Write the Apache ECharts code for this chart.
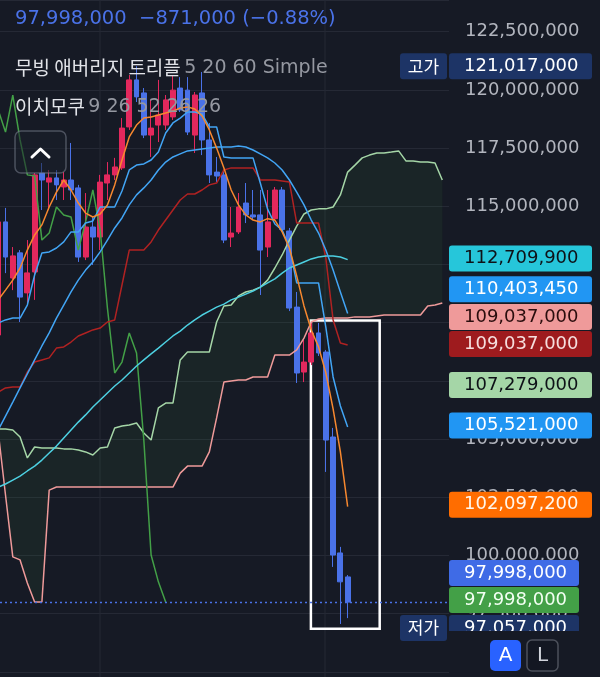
<!DOCTYPE html>
<html>
<head>
<meta charset="utf-8">
<script src="https://cdn.jsdelivr.net/npm/echarts@6.0.0/dist/echarts.min.js"></script>
<style>
html, body { margin: 0; padding: 0; background: #161a25; }
#main { width: 600px; height: 677px; }
</style>
</head>
<body>
<div id="main"></div>
<script>
// 단위: 백만원
// 봉 [시가, 종가, 저가, 고가]
const candles = [
  [109.47, 114.33, 108.83, 114.41], [114.33, 112.82, 112.13, 114.93], [111.92, 112.87, 111.40, 113.25],
  [113.00, 111.10, 110.03, 113.12], [111.28, 112.14, 110.85, 113.55], [112.18, 116.35, 110.98, 116.43],
  [116.43, 116.13, 114.84, 116.86], [116.04, 116.22, 114.84, 116.56], [116.22, 115.92, 115.27, 116.56],
  [115.83, 116.13, 115.27, 116.47], [116.13, 115.70, 115.27, 117.72], [115.79, 112.82, 112.61, 115.92],
  [112.82, 114.11, 112.69, 115.57], [114.11, 113.68, 112.48, 114.54], [113.68, 116.04, 113.12, 116.35],
  [116.00, 116.35, 115.27, 116.90], [116.35, 116.69, 116.13, 117.08], [116.65, 118.36, 116.56, 118.79],
  [118.41, 120.43, 118.28, 120.64], [120.43, 119.70, 119.48, 121.017], [119.87, 118.06, 117.93, 120.08],
  [118.06, 118.36, 117.12, 119.57], [118.49, 118.92, 117.76, 120.43], [118.49, 119.57, 118.28, 119.78],
  [118.84, 119.99, 118.71, 120.64], [120.08, 119.14, 119.05, 120.55], [119.99, 118.19, 118.06, 120.55],
  [118.06, 119.78, 117.29, 119.91], [119.87, 117.85, 117.20, 120.77], [117.85, 116.35, 116.00, 118.58],
  [116.47, 116.30, 116.04, 117.12], [116.35, 113.55, 113.42, 116.56], [113.68, 113.85, 113.25, 114.97],
  [113.90, 114.97, 113.81, 115.57], [115.14, 114.63, 114.28, 116.00], [114.63, 114.54, 114.41, 115.70],
  [114.63, 113.12, 111.19, 115.70], [113.25, 114.33, 112.82, 115.70], [114.47, 115.70, 114.37, 115.83],
  [115.70, 114.00, 113.90, 115.83], [113.94, 110.63, 110.50, 114.07], [110.67, 107.84, 107.41, 111.32],
  [107.88, 108.31, 107.45, 109.26], [108.31, 109.56, 108.18, 110.03], [109.56, 108.70, 108.57, 109.99],
  [108.74, 104.96, 103.59, 108.83], [105.09, 100.02, 99.51, 105.48], [100.11, 98.869, 97.057, 100.37],
  [99.08, 97.998, 97.31, 99.16]
];

// 무빙 애버리지 5 / 20 / 60
const ma5 = [110.98, 111.40, 111.83, 112.35, 113.12, 113.77, 114.20, 114.97, 115.61, 116.13,
  115.70, 115.14, 114.71, 114.54, 114.67, 115.06, 115.92, 116.99, 117.98, 118.49,
  118.79, 118.84, 118.92, 119.01, 119.09, 119.22, 119.27, 119.18, 118.88, 118.28,
  117.50, 116.65, 115.70, 115.06, 114.63, 114.41, 114.33, 114.47, 114.41, 113.90,
  113.21, 112.01, 110.72, 109.69, 108.96, 107.85, 106.30, 104.45, 102.10];
const ma20 = [105.39, 105.99, 106.59, 107.20, 107.80, 108.40, 109.00, 109.56, 110.20, 110.76,
  111.32, 111.83, 112.26, 112.61, 113.04, 113.55, 114.07, 114.50, 115.06, 115.49,
  115.79, 116.13, 116.56, 116.90, 117.12, 117.25, 117.38, 117.42, 117.46, 117.50,
  117.55, 117.55, 117.55, 117.59, 117.55, 117.42, 117.25, 117.08, 116.86, 116.56,
  116.13, 115.61, 115.06, 114.41, 113.85, 113.12, 112.26, 111.32, 110.40];
const ma60 = [102.94, 103.07, 103.24, 103.41, 103.63, 103.84, 104.10, 104.40, 104.70, 105.05,
  105.39, 105.73, 106.04, 106.38, 106.68, 106.98, 107.28, 107.54, 107.84, 108.14,
  108.40, 108.66, 108.91, 109.17, 109.43, 109.64, 109.90, 110.12, 110.33, 110.50,
  110.67, 110.80, 110.98, 111.10, 111.23, 111.36, 111.53, 111.71, 111.88, 112.13,
  112.35, 112.48, 112.61, 112.74, 112.82, 112.87, 112.87, 112.82, 112.71];

// 이치모쿠 9 26 52 26 26
const tenkan = [109.99, 110.12, 110.20, 110.20, 110.76, 112.05, 112.99, 113.04, 113.21, 113.47,
  113.90, 113.90, 114.28, 114.37, 114.97, 114.97, 114.97, 115.66, 116.56, 116.77,
  116.82, 116.99, 117.33, 118.15, 118.58, 118.79, 119.05, 119.05, 118.96, 118.41,
  118.41, 117.12, 117.08, 117.08, 117.08, 117.08, 116.00, 114.88, 114.24, 113.98,
  113.25, 111.71, 111.71, 111.71, 111.71, 109.81, 107.67, 106.42, 105.52];
const kijun = [107.02, 107.20, 107.24, 107.24, 107.88, 108.31, 108.40, 108.49, 108.91, 108.96,
  109.17, 109.43, 109.56, 109.69, 109.77, 110.03, 110.12, 111.62, 113.12, 113.12,
  113.12, 113.47, 113.98, 114.41, 114.84, 115.27, 115.53, 115.53, 115.70, 115.92,
  116.00, 116.56, 116.65, 116.65, 116.65, 116.65, 116.13, 116.13, 116.13, 116.09,
  116.04, 114.28, 114.28, 114.28, 114.28, 112.78, 110.12, 109.13, 109.04];
const lagging = [119.14, 118.19, 119.78, 117.85, 116.35, 116.30, 113.55, 113.85, 114.97, 114.63,
  114.54, 113.12, 114.33, 115.70, 114.00, 110.63, 107.84, 108.31, 109.56, 108.70,
  104.96, 100.02, 98.869, 97.998];
const spanA = [105.43, 105.43, 105.39, 105.09, 104.19, 104.66, 104.62, 104.62, 104.62, 104.58,
  104.58, 104.53, 104.45, 104.32, 104.62, 104.66, 105.48, 105.56, 105.61, 105.69,
  105.26, 104.96, 106.34, 106.55, 106.55, 108.40, 108.74, 108.74, 108.74, 108.74,
  110.03, 110.72, 110.76, 111.15, 111.32, 111.40, 111.53, 111.83, 112.35, 112.91,
  113.55, 114.15, 114.67, 114.84, 114.89, 114.89, 114.97, 115.49, 116.47, 116.77,
  117.08, 117.20, 117.29, 117.29, 117.33, 117.38, 116.95, 116.95, 116.90, 116.90,
  116.86, 116.13];
const spanB = [105.31, 102.60, 99.94, 99.81, 98.82, 98.00, 98.00, 102.81, 102.94, 102.94,
  102.94, 102.94, 102.94, 102.94, 102.94, 102.94, 102.94, 102.94, 102.94, 102.94,
  102.94, 102.94, 102.94, 102.94, 102.94, 103.54, 103.84, 103.84, 103.84, 104.45,
  105.91, 107.45, 107.50, 107.54, 107.54, 107.67, 107.67, 107.67, 108.61, 108.61,
  108.61, 108.83, 109.34, 110.03, 110.16, 110.20, 110.20, 110.20, 110.20, 110.25,
  110.25, 110.25, 110.29, 110.33, 110.33, 110.33, 110.33, 110.33, 110.33, 110.72,
  110.76, 110.85];

// 오른쪽 가격 라벨
const priceLabels = [
  { value: 121.017, bg: '#1d3466', fg: '#ffffff', w: 143, dy: 0, tag: '고가' },
  { value: 112.7099, bg: '#26c6da', fg: '#0e1117', w: 143, dy: -1 },
  { value: 110.40345, bg: '#2196f3', fg: '#ffffff', w: 143, dy: -24 },
  { value: 109.037, bg: '#ef9a9a', fg: '#2a0d0d', w: 143, dy: -28 },
  { value: 109.037, bg: '#9e1b1e', fg: '#f6dede', w: 143, dy: -1 },
  { value: 107.279, bg: '#a5d6a7', fg: '#0e1117', w: 143, dy: -1 },
  { value: 105.521, bg: '#2196f3', fg: '#ffffff', w: 143, dy: -1.5 },
  { value: 102.0972, bg: '#ff6d00', fg: '#fff6ec', w: 143, dy: -2 },
  { value: 97.998, bg: '#3f6be6', fg: '#ffffff', w: 130, dy: -29 },
  { value: 97.998, bg: '#43a047', fg: '#f2fff2', w: 130, dy: -2 },
  { value: 97.057, bg: '#1d3466', fg: '#ffffff', w: 130, dy: 4, tag: '저가' }
];

const UP = '#e3285d';
const DOWN = '#4a72e8';
const BG = '#161a25';
const FONT = "'DejaVu Sans', 'Noto Sans CJK KR', sans-serif";
const KFONT = "'Noto Sans CJK KR', 'DejaVu Sans', sans-serif";

const won = v => Math.round(v * 1e6).toLocaleString('en-US');
const withIndex = arr => arr.map((v, i) => [i, v]);
// 구름대 쌓기용: 값 차원을 앞에 둠 (값-값 축에서 y 로 쌓이도록)
const valueFirst = arr => arr.map((v, i) => [v, i]);

var chart = echarts.init(document.getElementById('main'), null, { renderer: 'canvas' });

function line(name, data, color, z) {
  return {
    name: name, type: 'line', data: withIndex(data), symbol: 'none', silent: true, z: z || 4,
    lineStyle: { color: color, width: 1.5 }
  };
}

var cloudDiff = spanA.map((v, i) => +(v - spanB[i]).toFixed(3));

chart.setOption({
  backgroundColor: BG,
  animation: false,
  grid: { left: 0, top: 0, width: 449, height: 671.9 },
  xAxis: {
    type: 'value', min: 0.2445, max: 61.92,
    axisLine: { show: false }, axisTick: { show: false }, axisLabel: { show: false },
    splitLine: { show: false }
  },
  yAxis: {
    type: 'value', position: 'right', min: 95, max: 123.862, interval: 2.5,
    axisLine: { show: false }, axisTick: { show: false },
    axisLabel: {
      color: '#b2b5be', fontSize: 18, fontFamily: FONT, margin: 16,
      formatter: v => (v <= 95 || v > 123 || Math.abs(v / 2.5 - Math.round(v / 2.5)) > 1e-6) ? '' : won(v)
    },
    splitLine: { lineStyle: { color: '#252935', width: 1 } }
  },
  series: [
    // 구름대 (선행스팬 B 위에 A-B 를 쌓아서 채움)
    { type: 'line', data: valueFirst(spanB), encode: { x: 1, y: 0 }, stack: 'cloud',
      symbol: 'none', silent: true, z: 1, lineStyle: { width: 0 } },
    { type: 'line', data: valueFirst(cloudDiff), encode: { x: 1, y: 0 }, stack: 'cloud',
      symbol: 'none', silent: true, z: 1, lineStyle: { width: 0 },
      areaStyle: { color: 'rgba(67,160,71,0.13)' } },
    {
      type: 'candlestick', data: candles.map((c, i) => [i].concat(c)), barWidth: 5.4, z: 2, silent: true,
      encode: { x: 0, y: [1, 2, 3, 4] },
      itemStyle: { color: UP, color0: DOWN, borderColor: UP, borderColor0: DOWN, borderWidth: 1 },
      markLine: {
        silent: true, symbol: 'none', label: { show: false },
        lineStyle: { color: DOWN, type: [2, 3], width: 1.3 },
        data: [{ yAxis: candles[candles.length - 1][1] }]
      }
    },
    line('선행스팬B', spanB, '#ef9a9a', 3),
    line('선행스팬A', spanA, '#a5d6a7', 3),
    line('후행스팬', lagging, '#43a047'),
    line('기준선', kijun, '#b02222'),
    line('전환선', tenkan, '#42a5f5'),
    line('MA60', ma60, '#4dd0e1'),
    line('MA20', ma20, '#42a5f5'),
    line('MA5', ma5, '#f7882f'),
    {
      type: 'line', data: [], z: 6, silent: true,
      markArea: {
        silent: true, label: { show: false },
        itemStyle: { color: 'rgba(0,0,0,0)', borderColor: '#ffffff', borderWidth: 2.5 },
        data: [[{ xAxis: 42.95, yAxis: 110.1 }, { xAxis: 52.4, yAxis: 96.85 }]]
      }
    }
  ]
});

// 헤더, 버튼, 가격 라벨
var last = candles[candles.length - 1][1];
var prev = candles[candles.length - 2][1];
var chg = last - prev;
var header = won(last) + '  ' + won(chg).replace('-', '−') + ' (' + (chg / prev * 100).toFixed(2).replace('-', '−') + '%)';

var g = [
  { type: 'line', z: 0, silent: true, shape: { x1: 100, y1: 0, x2: 100, y2: 677 }, style: { stroke: '#252935', lineWidth: 1 } },
  { type: 'line', z: 0, silent: true, shape: { x1: 325, y1: 0, x2: 325, y2: 677 }, style: { stroke: '#252935', lineWidth: 1 } },
  { type: 'text', x: 15, y: 19, z: 100, style: { text: header, fill: '#4a72e8', font: '19.5px ' + FONT, verticalAlign: 'middle' } },
  { type: 'text', x: 15, y: 68, z: 100, style: {
      text: '{a|무빙 애버리지 트리플} {b|5 20 60 Simple}', verticalAlign: 'middle',
      rich: { a: { fill: '#e1e3e8', fontSize: 19, fontFamily: KFONT }, b: { fill: '#9598a1', fontSize: 19, fontFamily: FONT } } } },
  { type: 'text', x: 15, y: 107, z: 100, style: {
      text: '{a|이치모쿠} {b|9 26 52 26 26}', verticalAlign: 'middle',
      rich: { a: { fill: '#e1e3e8', fontSize: 19, fontFamily: KFONT }, b: { fill: '#9598a1', fontSize: 19, fontFamily: FONT } } } },
  { type: 'rect', z: 100, shape: { x: 15, y: 131, width: 51, height: 42, r: 6 },
    style: { fill: 'rgba(28,32,43,0.55)', stroke: 'rgba(120,126,140,0.55)', lineWidth: 1.5 } },
  { type: 'polyline', z: 101, shape: { points: [[32, 157], [40.5, 149], [49, 157]] },
    style: { stroke: '#ffffff', lineWidth: 3, lineCap: 'round', lineJoin: 'round', fill: null } },
  // 가격 영역 아래쪽 경계 (저가 라벨이 잘림)
  { type: 'rect', z: 115, silent: true, shape: { x: 449, y: 631, width: 151, height: 12 }, style: { fill: BG } },
  { type: 'rect', z: 120, shape: { x: 490, y: 640, width: 31, height: 31, r: 5 }, style: { fill: '#2962ff' } },
  { type: 'text', z: 121, x: 505.5, y: 656, style: { text: 'A', fill: '#ffffff', font: '20px ' + FONT, align: 'center', verticalAlign: 'middle' } },
  { type: 'rect', z: 120, shape: { x: 527, y: 640, width: 31, height: 31, r: 5 }, style: { fill: '#131722', stroke: '#4c505b', lineWidth: 1.5 } },
  { type: 'text', z: 121, x: 542.5, y: 656, style: { text: 'L', fill: '#d1d4dc', font: '20px ' + FONT, align: 'center', verticalAlign: 'middle' } }
];

priceLabels.forEach(p => {
  var cy = chart.convertToPixel({ yAxisIndex: 0 }, p.value) + p.dy;
  g.push({ type: 'rect', z: 110, shape: { x: 449, y: cy - 13, width: p.w, height: 26, r: 3 }, style: { fill: p.bg } });
  g.push({ type: 'text', z: 111, x: 464, y: cy, style: { text: won(p.value), fill: p.fg, font: '18px ' + FONT, verticalAlign: 'middle' } });
  if (p.tag) {
    g.push({ type: 'rect', z: 116, shape: { x: 400, y: cy - 13, width: 47, height: 26, r: 3 }, style: { fill: p.bg } });
    g.push({ type: 'text', z: 117, x: 423.5, y: cy, style: { text: p.tag, fill: '#ffffff', font: '17px ' + KFONT, align: 'center', verticalAlign: 'middle' } });
  }
});

chart.setOption({ graphic: g });
</script>
</body>
</html>
